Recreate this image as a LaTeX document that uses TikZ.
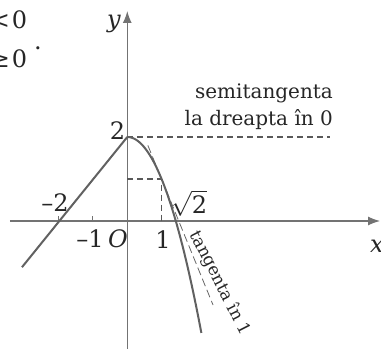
\documentclass[tikz,border=0pt]{standalone}
\usepackage{fontspec}
\setmainfont{DejaVu Serif}
\usetikzlibrary{arrows.meta}
\begin{document}
\begin{tikzpicture}[x=34.3pt,y=42pt,
  axis/.style={draw=black!55,line width=1.2pt,-{Latex[length=12pt,width=9pt]}},
  graphline/.style={draw=black!62,line width=2pt,line join=round},
  helper/.style={draw=black!65,line width=1.3pt,dash pattern=on 6pt off 4pt},
  tanline/.style={draw=black!60,line width=0.8pt,dash pattern=on 8pt off 4pt},
  tickmark/.style={draw=black!55,line width=1pt},
  mlabel/.style={inner sep=0pt,text=black!85,font=\fontsize{24}{28}\selectfont},
  tlabel/.style={inner sep=0pt,text=black!85,font=\fontsize{20}{24}\selectfont},
  rlabel/.style={inner sep=0pt,text=black!85,font=\fontsize{17}{20}\selectfont}]
\useasboundingbox (-3.711,-3.024) rectangle (7.397,5.262);
% axes
\coordinate (xs) at (-3.42,0);
\coordinate (xe) at (7.37,0);
\coordinate (ys) at (0,-3.05);
\coordinate (ye) at (0,5.0);
\draw[axis] (xs) -- (xe);
\draw[axis] (ys) -- (ye);
% ticks
\coordinate (tm2) at (-2,0);
\coordinate (tm1) at (-1,0);
\draw[tickmark] (tm2) -- ++(0,0.13);
\draw[tickmark] (tm1) -- ++(0,0.13);
% helper dashed lines
\coordinate (top) at (0,2);
\coordinate (topr) at (5.9,2);
\coordinate (y1) at (0,1);
\coordinate (p1) at (1,1);
\coordinate (x1) at (1,0);
\draw[helper] (top) -- (topr);
\draw[helper] (y1) -- (p1) -- (x1);
% tangent at 1
\coordinate (ta) at (0.6,1.8);
\coordinate (tb) at (2.5,-2);
\draw[tanline] (ta) -- (tb);
% graph
\coordinate (lstart) at (-3.07,-1.1);
\draw[graphline] (lstart) -- (top);
\draw[graphline] plot[domain=0:2.16,samples=60,smooth] (\x,{2-\x*\x});
% labels
\node[mlabel] (ylab) at (-0.388,4.69) {\itshape y};
\node[mlabel] (xlab) at (7.28,-0.595) {\itshape x};
\node[mlabel] (two) at (-0.286,2.143) {2};
\node[mlabel] (mtwo) at (-2.108,0.429) {–2};
\node[mlabel] (mone) at (-1.087,-0.429) {–1};
\node[mlabel] (orig) at (-0.271,-0.429) {\itshape O};
\node[mlabel] (one) at (1.04,-0.452) {1};
\node[mlabel] (sq) at (1.80,0.429) {$\sqrt{\hbox{2}}$};
\node[tlabel,anchor=base east] (semi1) at (6.0,2.905) {semitangenta};
\node[tlabel,anchor=base east] (semi2) at (6.0,2.262) {la dreapta în 0};
\node[rlabel,rotate=-63] (tang) at (2.70,-1.476) {tangenta în 1};
% piecewise definition fragment
\node[mlabel,anchor=base east] (c1) at (-2.910,4.595) {<\kern2pt0};
\node[mlabel,anchor=base east] (c2) at (-2.910,3.643) {≥\kern2pt0};
\node[mlabel,anchor=base] (dot) at (-2.603,4.095) {.};
\end{tikzpicture}
\end{document}
